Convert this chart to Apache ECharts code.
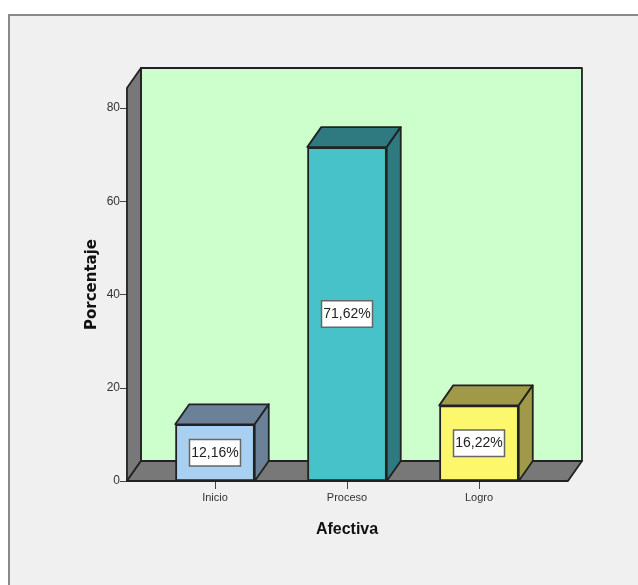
<!DOCTYPE html>
<html><head><meta charset="utf-8">
<style>html,body{margin:0;padding:0;background:#fff}#c{width:638px;height:585px}</style>
<script src="https://cdn.jsdelivr.net/npm/echarts@6/dist/echarts.min.js"></script>
</head><body><div id="c"></div>
<script>
const categories = ["Inicio", "Proceso", "Logro"];
const porcentajes = [12.16, 71.62, 16.22];
const etiquetas = ["12,16%", "71,62%", "16,22%"];
const yTicks = [0, 20, 40, 60, 80];
const frontColors = ["#a9d0f0", "#47c2c8", "#fdf76e"];
const sideColors = ["#6a8198", "#2f7a80", "#a09a48"];
const wallTop = 84.3;

const DX = 14, DY = -20, EDGE = "#222222", TXT = "#333", FONT = "Liberation Sans";
const poly = (pts, fill) => ({ type: "polygon", shape: { points: pts },
  style: { fill, stroke: EDGE, lineWidth: 1.8, lineJoin: "round" } });

const chart = echarts.init(document.getElementById("c"), null, { renderer: "canvas" });
chart.setOption({
  animation: false,
  backgroundColor: "#ffffff",
  textStyle: { fontFamily: FONT },
  graphic: [{ type: "rect", z: -10, silent: true,
    shape: { x: 9, y: 15, width: 640, height: 590 },
    style: { fill: "#f0f0f0", stroke: "#8a8a8a", lineWidth: 2 } }],
  grid: { left: 149, width: 396, top: 88, height: 393 },
  xAxis: {
    type: "category", data: categories,
    name: "Afectiva", nameLocation: "center", nameGap: 41,
    nameTextStyle: { fontSize: 16, fontWeight: "bold", color: "#111", fontFamily: FONT },
    axisLine: { show: false },
    axisTick: { show: true, alignWithLabel: true, length: 8, lineStyle: { color: "#444", width: 1 } },
    axisLabel: { fontSize: 11, color: TXT, margin: 11, fontFamily: FONT }
  },
  yAxis: {
    type: "value", min: 0, max: wallTop, offset: 22,
    name: "Porcentaje", nameLocation: "center", nameGap: 27, nameRotate: 90, nameMoveOverlap: false,
    nameTextStyle: { fontSize: 15, fontWeight: "bold", color: "#111", fontFamily: "DejaVu Sans" },
    splitLine: { show: false },
    axisLine: { show: false },
    axisTick: { show: true, length: 7, lineStyle: { color: "#444", width: 1 }, customValues: yTicks },
    axisLabel: { fontSize: 12, color: TXT, margin: 7, fontFamily: FONT, customValues: yTicks }
  },
  series: [
    { // back wall, side wall and floor
      type: "custom", z: 1, silent: true, data: [0], clip: false,
      renderItem: (p, api) => {
        const step = api.size([1, 0])[0];
        const c0 = api.coord([0, 0]), cTop = api.coord([0, wallTop]);
        const xl = c0[0] - step * 0.667, xr = c0[0] + step * 2.674;
        const yb = c0[1], yt = cTop[1];
        return { type: "group", children: [
          poly([[xl + DX, yt + DY], [xr + DX, yt + DY], [xr + DX, yb + DY], [xl + DX, yb + DY]], "#ccffcc"),
          poly([[xl, yt], [xl + DX, yt + DY], [xl + DX, yb + DY], [xl, yb]], "#787878"),
          poly([[xl, yb], [xl + DX, yb + DY], [xr + DX, yb + DY], [xr, yb]], "#787878")
        ]};
      }
    },
    { // top and right faces of the bars
      type: "custom", z: 2, silent: true, clip: false,
      data: porcentajes.map((v, i) => [i, v]),
      encode: { x: 0, y: 1 },
      renderItem: (p, api) => {
        const i = api.value(0), top = api.coord([i, api.value(1)]), base = api.coord([i, 0]);
        const w = 79.5, l = top[0] - w / 2, r = top[0] + w / 2;
        return { type: "group", children: [
          poly([[l, top[1]], [l + DX, top[1] + DY], [r + DX, top[1] + DY], [r, top[1]]], sideColors[i]),
          poly([[r, top[1]], [r + DX, top[1] + DY], [r + DX, base[1] + DY], [r, base[1]]], sideColors[i])
        ]};
      }
    },
    {
      type: "bar", z: 3, barWidth: 79.5, silent: true,
      data: porcentajes.map((v, i) => ({ value: v, itemStyle: { color: frontColors[i] } })),
      itemStyle: { borderColor: EDGE, borderWidth: 1.8 },
      label: {
        show: true, position: "inside", formatter: p => etiquetas[p.dataIndex],
        fontSize: 14, color: "#222", fontFamily: FONT,
        backgroundColor: "#ffffff", borderColor: "#666", borderWidth: 1.5, padding: [6, 1, 5, 1]
      }
    }
  ]
});
</script></body></html>
